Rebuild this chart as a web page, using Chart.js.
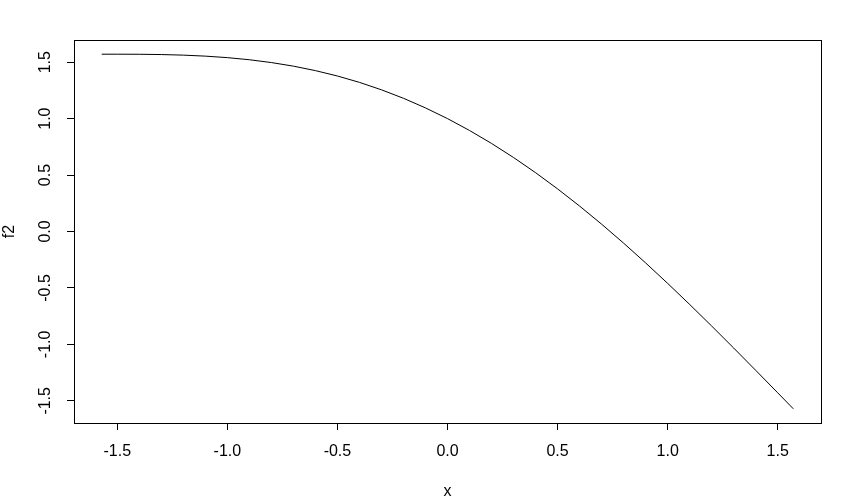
<!DOCTYPE html>
<html>
<head>
<meta charset="utf-8">
<script src="https://cdn.jsdelivr.net/npm/chart.js@4/dist/chart.umd.min.js"></script>
<style>
  html, body { margin: 0; padding: 0; background: #fff; }
  #wrap { width: 841px; height: 501px; }
</style>
</head>
<body>
<div id="wrap"><canvas id="grafico" width="841" height="501"></canvas></div>
<script>
// values
const xs = [-1.5708, -1.5, -1.4, -1.3, -1.2, -1.1, -1.0, -0.9, -0.8, -0.7, -0.6, -0.5, -0.4, -0.3, -0.2, -0.1,
  0, 0.1, 0.2, 0.3, 0.4, 0.5, 0.6, 0.7, 0.8, 0.9, 1.0, 1.1, 1.2, 1.3, 1.4, 1.5, 1.5708];
const f2 = [1.5708, 1.5707, 1.5700, 1.5675, 1.5624, 1.5536, 1.5403, 1.5216, 1.4967, 1.4648, 1.4253, 1.3776, 1.3211, 1.2553, 1.1801, 1.0950,
  1.0, 0.8950, 0.7801, 0.6553, 0.5211, 0.3776, 0.2253, 0.0648, -0.1033, -0.2784, -0.4597, -0.6464, -0.8376, -1.0325, -1.2300, -1.4293, -1.5708];
const xTicks = [-1.5, -1.0, -0.5, 0.0, 0.5, 1.0, 1.5];
const yTicks = [-1.5, -1.0, -0.5, 0.0, 0.5, 1.0, 1.5];
const xLabel = "x";
const yLabel = "f2";

const fuente = '16px "Liberation Sans", Arial, sans-serif';

const rPlot = {
  id: "rPlot",
  afterDraw(chart) {
    const c = chart.ctx;
    const a = chart.chartArea;
    const sx = chart.scales.x, sy = chart.scales.y;
    c.save();
    c.strokeStyle = "#000";
    c.lineWidth = 1;
    c.strokeRect(Math.round(a.left) + 0.5, Math.round(a.top) + 0.5,
      Math.round(a.right - a.left), Math.round(a.bottom - a.top));
    c.fillStyle = "#000";
    c.font = fuente;
    // x tick labels
    c.textAlign = "center";
    c.textBaseline = "middle";
    xTicks.forEach(v => {
      c.fillText(v.toFixed(1), sx.getPixelForValue(v), a.bottom + 29);
    });
    c.fillText(xLabel, (a.left + a.right) / 2, a.bottom + 69);
    // y tick labels, rotated like R
    yTicks.forEach(v => {
      c.save();
      c.translate(a.left - 28, sy.getPixelForValue(v));
      c.rotate(-Math.PI / 2);
      c.fillText(v.toFixed(1), 0, 0);
      c.restore();
    });
    c.save();
    c.translate(a.left - 64, (a.top + a.bottom) / 2);
    c.rotate(-Math.PI / 2);
    c.fillText(yLabel, 0, 0);
    c.restore();
    c.restore();
  }
};

new Chart(document.getElementById("grafico").getContext("2d"), {
  type: "line",
  data: {
    datasets: [{
      data: xs.map((x, i) => ({ x: x, y: f2[i] })),
      borderColor: "#000",
      borderWidth: 1,
      pointRadius: 0,
      tension: 0,
      fill: false
    }]
  },
  plugins: [rPlot],
  options: {
    responsive: false,
    animation: false,
    events: [],
    layout: { padding: { left: 67, right: 20, top: 40, bottom: 71 } },
    plugins: { legend: { display: false }, tooltip: { enabled: false } },
    scales: {
      x: {
        type: "linear",
        min: -1.6965, max: 1.6965,
        afterBuildTicks: s => { s.ticks = xTicks.map(v => ({ value: v })); },
        ticks: { display: false },
        grid: { drawOnChartArea: false, drawTicks: true, tickLength: 7, color: "#000" },
        border: { display: false }
      },
      y: {
        type: "linear",
        min: -1.6965, max: 1.6965,
        afterBuildTicks: s => { s.ticks = yTicks.map(v => ({ value: v })); },
        ticks: { display: false },
        grid: { drawOnChartArea: false, drawTicks: true, tickLength: 7, color: "#000" },
        border: { display: false }
      }
    }
  }
});
</script>
</body>
</html>
